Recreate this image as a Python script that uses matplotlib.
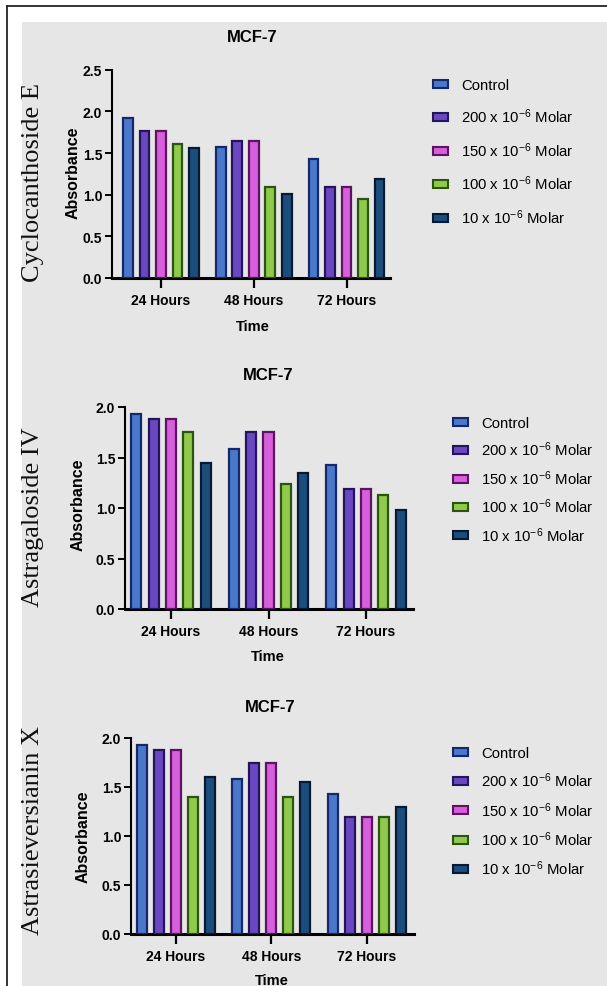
import matplotlib
matplotlib.use("Agg")
import matplotlib.pyplot as plt
from matplotlib.patches import Rectangle, Patch
from matplotlib.lines import Line2D
import numpy as np

plt.rcParams['font.family'] = ['Liberation Sans', 'DejaVu Sans']
plt.rcParams['mathtext.fontset'] = 'custom'
plt.rcParams['mathtext.rm'] = 'Liberation Sans'
plt.rcParams['mathtext.it'] = 'Liberation Sans:italic'
plt.rcParams['mathtext.bf'] = 'Liberation Sans:bold'

##### DATA #############################
time_points = ["24 Hours", "48 Hours", "72 Hours"]
series_names = ["Control", "200 x 10$^{-6}$ Molar", "150 x 10$^{-6}$ Molar",
                "100 x 10$^{-6}$ Molar", "10 x 10$^{-6}$ Molar"]
compounds = ["Cyclocanthoside E", "Astragaloside IV", "Astrasieversianin X"]

# absorbance per series, one value per time point
cyclo_vals = [
    [1.92, 1.57, 1.43],   # Control
    [1.77, 1.65, 1.09],   # 200
    [1.77, 1.65, 1.09],   # 150
    [1.61, 1.09, 0.95],   # 100
    [1.56, 1.01, 1.19],   # 10
]
astra_iv_vals = [
    [1.93, 1.58, 1.43],
    [1.88, 1.75, 1.19],
    [1.88, 1.75, 1.19],
    [1.75, 1.24, 1.13],
    [1.45, 1.35, 0.98],
]
astra_x_vals = [
    [1.93, 1.58, 1.43],
    [1.88, 1.75, 1.19],
    [1.88, 1.75, 1.19],
    [1.40, 1.40, 1.19],
    [1.60, 1.55, 1.30],
]
y_max = [2.5, 2.0, 2.0]

##### STYLE ############################
fills = ["#4a79cb", "#6a48c2", "#d75fdb", "#8fca4c", "#1b4e7c"]
edges = ["#14286a", "#24145a", "#5c1462", "#2a5410", "#081a33"]
BG = "#e6e6e6"

W, H = 607, 987
fig = plt.figure(figsize=(W/100, H/100), dpi=100)

# background panel and frame
fig.patches.append(Rectangle((22/W, 0), (W-22)/W, 1-23/H, transform=fig.transFigure,
                             facecolor=BG, edgecolor='none', zorder=-5))
fig.lines.append(Line2D([7/W, 7/W], [0, 1-7/H], transform=fig.transFigure, color='#222222', lw=1.3))
fig.lines.append(Line2D([7/W, 1], [1-7/H, 1-7/H], transform=fig.transFigure, color='#222222', lw=1.3))


def fx(x):
    return x/W


def fy(y):
    return 1-y/H


# per panel pixel geometry: axes box, group centres, text positions
panels = [
    dict(box=(112, 70.7, 390, 279), centres=(161, 346.5), title=(252, 37), xlab=(253, 327),
         ylab=(73, 173), side=(33, 183), leg=(433, 79), legsp=1.0),
    dict(box=(125, 408, 413, 610), centres=(171, 366), title=(268, 376), xlab=(268, 657),
         ylab=(78, 505), side=(33, 517), leg=(453, 417), legsp=0.66),
    dict(box=(131, 739, 414, 935), centres=(175.6, 367), title=(270, 707), xlab=(272, 981),
         ylab=(83, 837), side=(33, 831), leg=(453, 747), legsp=0.72),
]
all_vals = [cyclo_vals, astra_iv_vals, astra_x_vals]

bar_step = 0.178
bar_w = 0.105
x = np.arange(len(time_points))

for p, vals, name, ym in zip(panels, all_vals, compounds, y_max):
    l, t, r, b = p['box']
    ax = fig.add_axes([fx(l), fy(b), fx(r-l), (b-t)/H])
    ax.patch.set_alpha(0)
    c0, c2 = p['centres']
    sp = (c2-c0)/2.0
    ax.set_xlim(-(c0-l)/sp, 2+(r-c2)/sp)
    ax.set_ylim(0, ym)
    for i, v in enumerate(vals):
        ax.bar(x+(i-2)*bar_step, v, width=bar_w, color=fills[i], edgecolor=edges[i],
               linewidth=1.6, zorder=3)
    ax.spines['top'].set_visible(False)
    ax.spines['right'].set_visible(False)
    ax.spines['left'].set_linewidth(1.5)
    ax.spines['bottom'].set_linewidth(2.2)
    ax.set_xticks(x)
    ax.set_xticklabels(time_points, fontsize=10, fontweight='bold')
    ax.set_yticks(np.arange(0, ym+0.01, 0.5))
    ax.set_yticklabels(["%.1f" % v for v in np.arange(0, ym+0.01, 0.5)], fontsize=10, fontweight='bold')
    ax.tick_params(axis='x', length=7, width=1.6, pad=4)
    ax.tick_params(axis='y', length=5, width=1.4, pad=2)

    fig.text(fx(p['title'][0]), fy(p['title'][1]), "MCF-7", ha='center', va='center',
             fontsize=12, fontweight='bold')
    fig.text(fx(p['xlab'][0]), fy(p['xlab'][1]), "Time", ha='center', va='center',
             fontsize=10.5, fontweight='bold')
    fig.text(fx(p['ylab'][0]), fy(p['ylab'][1]), "Absorbance", ha='center', va='center',
             rotation=90, fontsize=11.5, fontweight='bold')
    fig.text(fx(p['side'][0]), fy(p['side'][1]), name, ha='center', va='center',
             rotation=90, fontsize=19, family=['Liberation Serif', 'DejaVu Serif'], color='#111111')

    handles = [Patch(facecolor=fills[i], edgecolor=edges[i], linewidth=1.5) for i in range(5)]
    fig.legend(handles, series_names, loc='upper left',
               bbox_to_anchor=(fx(p['leg'][0]), fy(p['leg'][1])), frameon=False,
               fontsize=10.7, borderpad=0, borderaxespad=0, handlelength=1.0,
               handleheight=0.45, handletextpad=0.9, labelspacing=p['legsp'])

fig.savefig("out.png", dpi=100)
